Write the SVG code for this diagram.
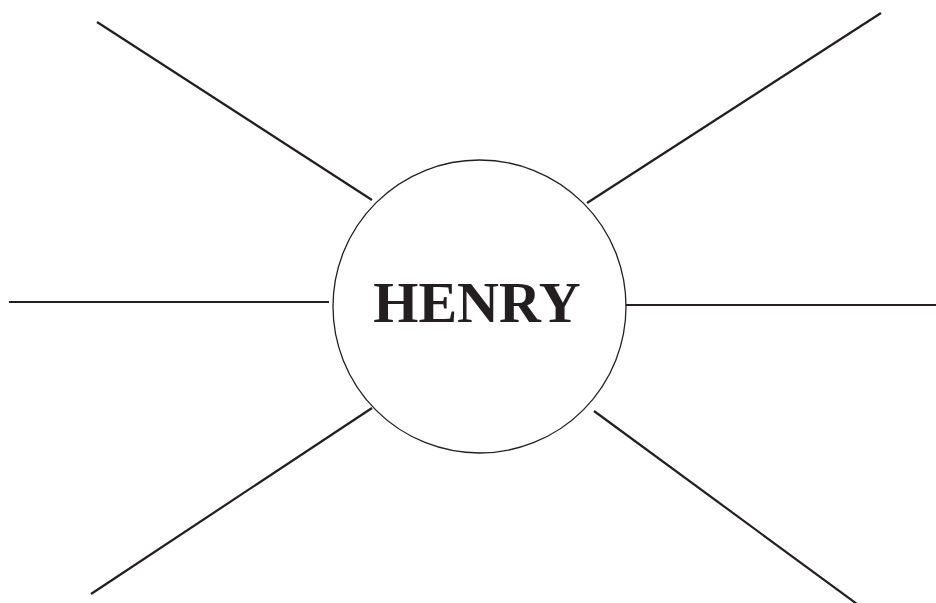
<svg xmlns="http://www.w3.org/2000/svg" width="936" height="603" viewBox="0 0 936 603">
<style>
.c{stroke:#231f20;stroke-width:2.2;stroke-linecap:butt;fill:none}
.n{stroke:#231f20;stroke-width:1.3;fill:#fff}
.t{font-family:"Liberation Serif","Times New Roman",serif;font-weight:bold;font-size:58px;fill:#231f20}
</style>
<rect width="936" height="603" fill="#fff"/>
<g id="connectors">
<line class="c" x1="97" y1="22" x2="372" y2="200"/>
<line class="c" x1="587" y1="203" x2="881" y2="13"/>
<line class="c" x1="9" y1="302" x2="329" y2="302"/>
<line class="c" x1="626" y1="305" x2="936" y2="305"/>
<line class="c" x1="372" y1="408" x2="91" y2="594"/>
<line class="c" x1="594" y1="411" x2="857" y2="604"/>
</g>
<g id="henry">
<circle class="n" cx="479.5" cy="306.5" r="146.5"/>
<text class="t" x="477" y="322" text-anchor="middle">HENRY</text>
</g>
</svg>
